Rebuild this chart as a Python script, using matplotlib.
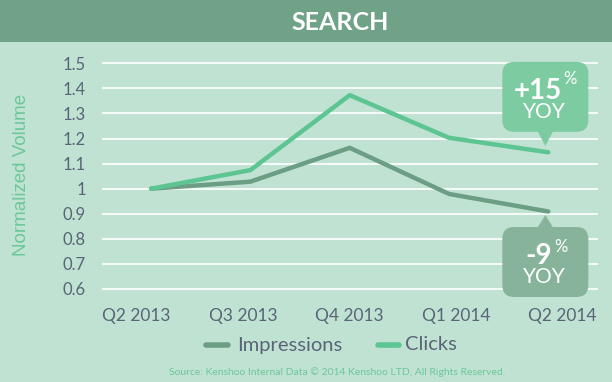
import matplotlib
matplotlib.use("Agg")
import matplotlib.pyplot as plt
from matplotlib.patches import Rectangle, FancyBboxPatch, Polygon
from matplotlib.transforms import ScaledTranslation

plt.rcParams['font.family'] = ['Lato', 'DejaVu Sans']

quarters = ["Q2 2013", "Q3 2013", "Q4 2013", "Q1 2014", "Q2 2014"]
impressions = [1.0, 1.028, 1.163, 0.979, 0.909]
clicks = [1.0, 1.074, 1.373, 1.203, 1.145]
y_ticks = [0.6, 0.7, 0.8, 0.9, 1.0, 1.1, 1.2, 1.3, 1.4, 1.5]
y_tick_labels = ["0.6", "0.7", "0.8", "0.9", "1", "1.1", "1.2", "1.3", "1.4", "1.5"]
clicks_yoy = "+15"
impressions_yoy = "-9"

BG = "#c0e2d2"
HEADER = "#6fa287"
IMP_C = "#6b9e84"
CLK_C = "#5cc592"
TXT = "#5a6477"
GREEN_TXT = "#6cc79a"

W, H = 612, 382
fig = plt.figure(figsize=(W / 100, H / 100), dpi=100, facecolor=BG)

# header bar
fig.patches.append(Rectangle((0, (H - 42) / H), 1, 42 / H, transform=fig.transFigure,
                             facecolor=HEADER, edgecolor="none", zorder=0))
fig.text(340 / W, 1 - 22 / H, "SEARCH", color="white", fontsize=18, fontweight="bold",
         ha="center", va="center")

ax = fig.add_axes([102 / W, (H - 296.5) / H, 496 / W, (296.5 - 55.8) / H])
ax.set_facecolor(BG)
for s in ax.spines.values():
    s.set_visible(False)

x = list(range(len(quarters)))
ax.plot(x, impressions, color=IMP_C, lw=3.2, solid_capstyle="round", zorder=3)
ax.plot(x, clicks, color=CLK_C, lw=3.2, solid_capstyle="round", zorder=3)

ax.set_xlim(-0.494, 4.50)
ax.set_ylim(0.57, 1.53)
ax.set_yticks(y_ticks)
ax.set_yticklabels(y_tick_labels)
ax.set_xticks(x)
ax.set_xticklabels(quarters)
ax.tick_params(axis="y", length=0, colors=TXT, labelsize=12, pad=11.5)
ax.tick_params(axis="x", length=0, colors=TXT, labelsize=12.5, pad=8)
ax.grid(axis="y", color="white", lw=1.2, zorder=0)
ax.set_axisbelow(True)
# spread the category labels slightly, as in the original artwork
for i, lab in enumerate(ax.get_xticklabels()):
    lab.set_transform(lab.get_transform() +
                      ScaledTranslation((i - 2) * 7.2 / 100, 0, fig.dpi_scale_trans))

fig.text(22 / W, 1 - 175 / H, "Normalized Volume", rotation=90, color=GREEN_TXT,
         fontsize=13.5, family=["Liberation Sans", "DejaVu Sans"],
         ha="center", va="center")

# callouts
fig.canvas.draw()
def callout(idx, series, color, above, big, pct_dx, pct_dy):
    px, py = ax.transData.transform((x[idx], series[idx]))
    bw, bh = 86, 70
    tip_x = px - 3
    if above:
        tip_y = py + 6.5
        by0 = tip_y + 14          # box bottom (display coords, y up)
    else:
        tip_y = py - 3.5
        by0 = tip_y - 12 - bh
    bx0 = px - 46
    r = 12
    box = FancyBboxPatch((bx0 + r, by0 + r), bw - 2 * r, bh - 2 * r,
                         boxstyle=f"round,pad={r}", transform=None,
                         facecolor=color, edgecolor="none", zorder=5)
    fig.patches.append(box)
    if above:
        tri = [(tip_x - 8, by0 + 1), (tip_x + 8, by0 + 1), (tip_x, tip_y)]
    else:
        tri = [(tip_x - 8, by0 + bh - 1), (tip_x + 8, by0 + bh - 1), (tip_x, tip_y)]
    fig.patches.append(Polygon(tri, closed=True, transform=None,
                               facecolor=color, edgecolor="none", zorder=5))
    top = by0 + bh
    fig.text((bx0 + 36) / W, (top - 29) / H, big, color="white", fontsize=20,
             fontweight="bold", ha="center", va="center", zorder=6)
    fig.text((bx0 + pct_dx) / W, (top - pct_dy) / H, "%",
             color="white", fontsize=12, ha="center", va="center", zorder=6)
    fig.text((bx0 + 42.5) / W, (top - 50) / H, "YOY", color="white", fontsize=15,
             ha="center", va="center", zorder=6)

callout(4, clicks, "#7dcba1", True, clicks_yoy, 68, 17)
callout(4, impressions, "#86b39a", False, impressions_yoy, 59, 20)

# legend
ly = 1 - 345 / H
fig.add_artist(plt.Line2D([206 / W, 228 / W], [ly, ly], color=IMP_C, lw=4,
                          solid_capstyle="round"))
fig.text(237 / W, ly, "Impressions", color=TXT, fontsize=14.5, ha="left", va="center")
fig.add_artist(plt.Line2D([378 / W, 399 / W], [ly, ly], color=CLK_C, lw=4,
                          solid_capstyle="round"))
fig.text(405 / W, ly, "Clicks", color=TXT, fontsize=14.5, ha="left", va="center")

fig.text(337 / W, 1 - 372 / H,
         "Source: Kenshoo Internal Data \u00a9 2014 Kenshoo LTD, All Rights Reserved.",
         color=GREEN_TXT, fontsize=7.5, ha="center", va="center")

fig.savefig("out.png", dpi=100, facecolor=BG)
